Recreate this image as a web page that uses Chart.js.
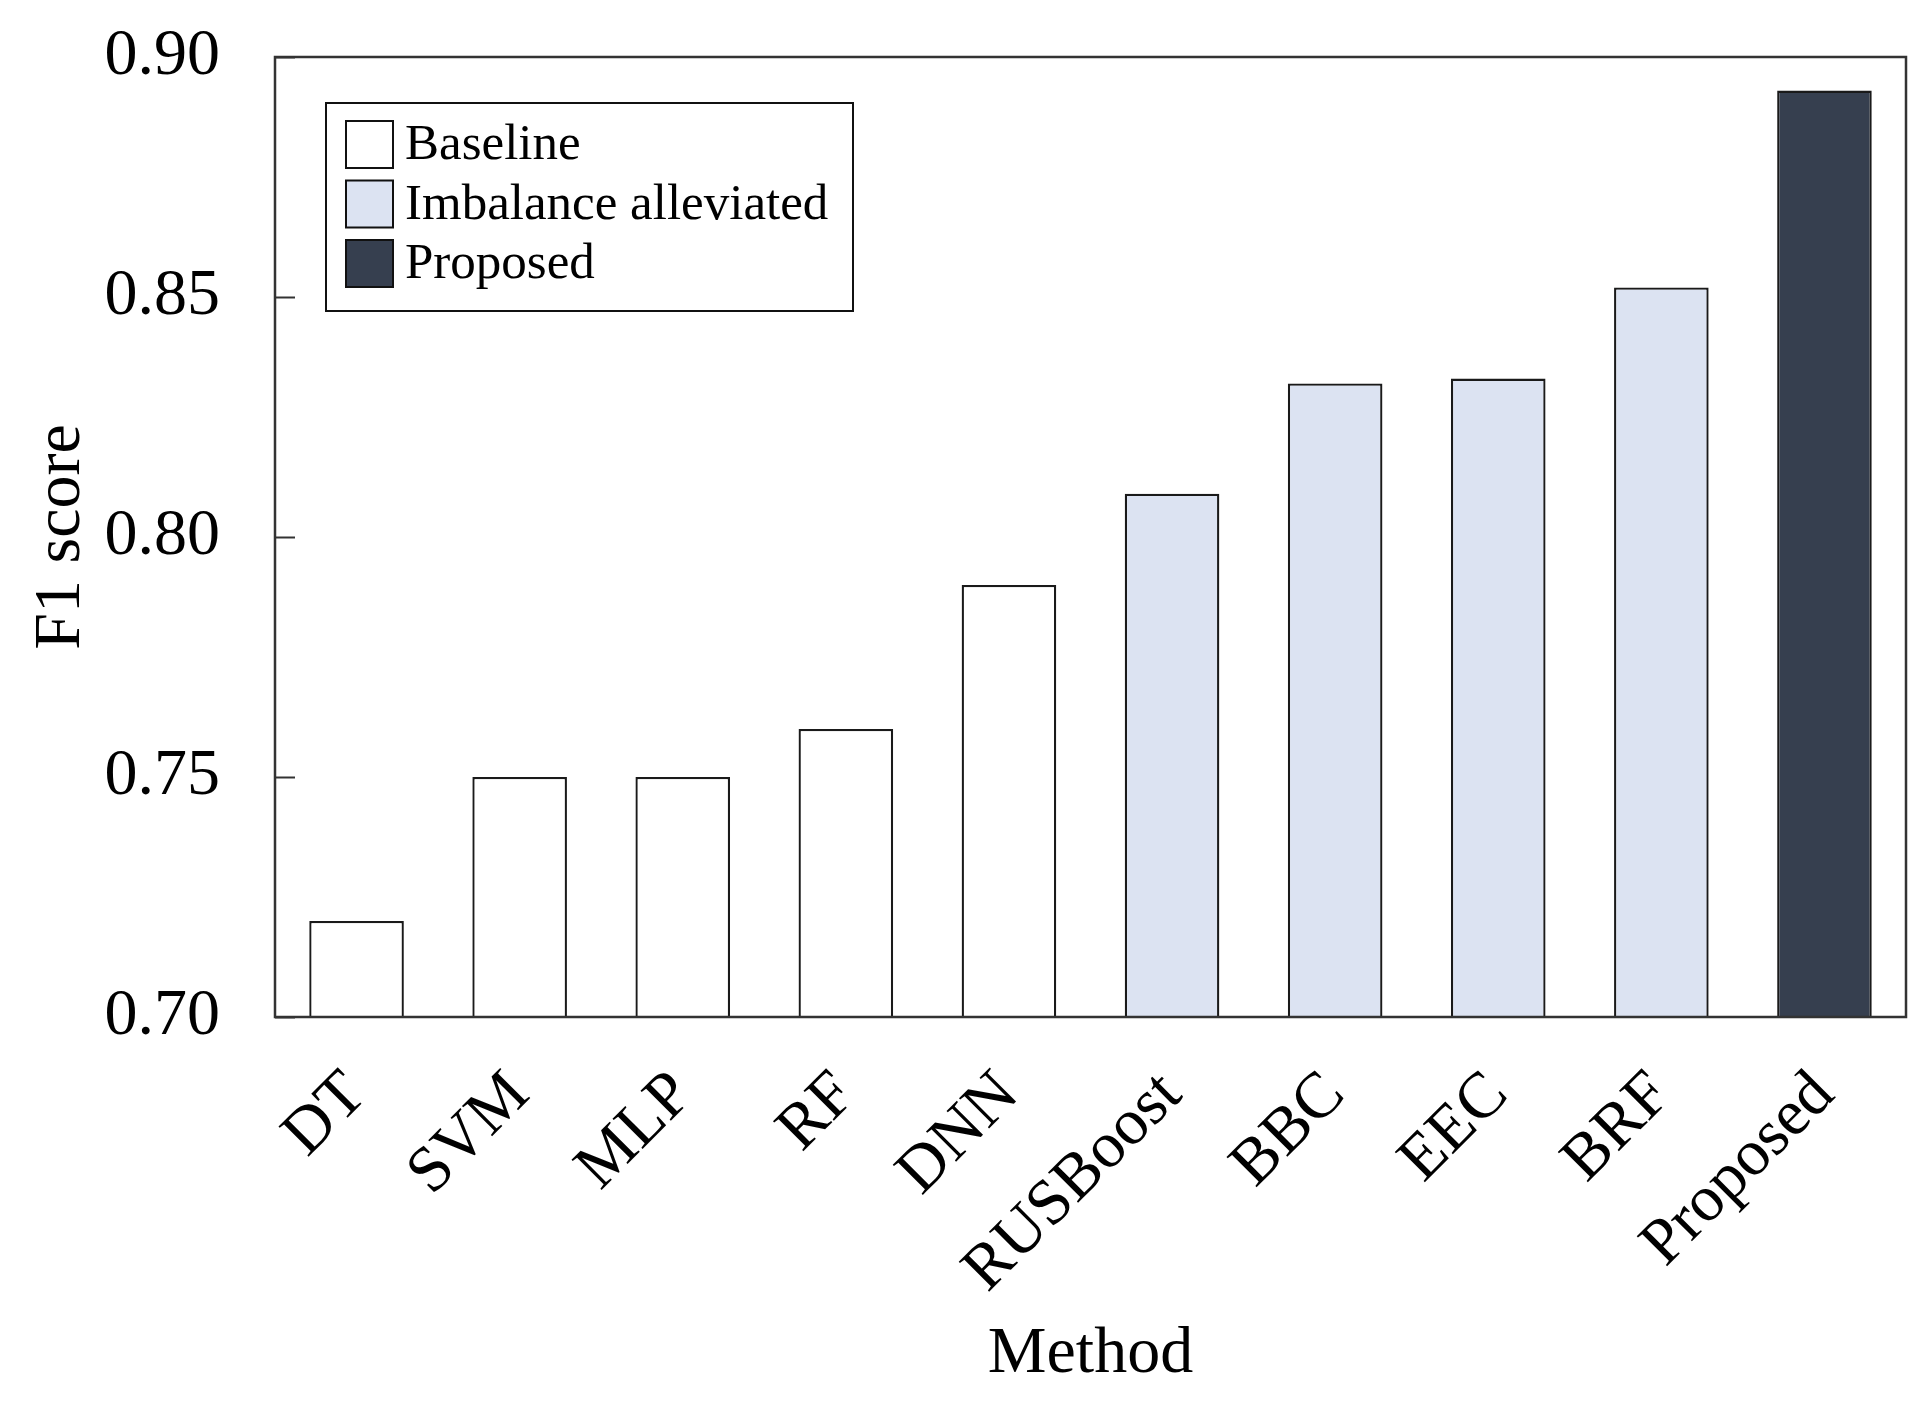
<!DOCTYPE html>
<html>
<head>
<meta charset="utf-8">
<script src="https://cdn.jsdelivr.net/npm/chart.js@4"></script>
<style>
  html, body { margin: 0; padding: 0; background: #fff; }
  #wrap { width: 1932px; height: 1403px; }
</style>
</head>
<body>
<div id="wrap"><canvas id="c"></canvas></div>
<script>
// F1 score per method
const methods = ['DT', 'SVM', 'MLP', 'RF', 'DNN', 'RUSBoost', 'BBC', 'EEC', 'BRF', 'Proposed'];
const f1 = [0.720, 0.750, 0.750, 0.760, 0.790, 0.809, 0.832, 0.833, 0.852, 0.893];
const group = [0, 0, 0, 0, 0, 1, 1, 1, 1, 2];
const groupNames = ['Baseline', 'Imbalance alleviated', 'Proposed'];
const groupColors = ['#ffffff', '#dce3f2', '#363f4f'];
const yTicks = [0.70, 0.75, 0.80, 0.85, 0.90];

const FONT = 'Liberation Serif, Times New Roman, serif';

// frame + inward y ticks + legend box
const decor = {
  id: 'decor',
  afterDatasetsDraw(chart) {
    const { ctx, chartArea: a, scales: { y } } = chart;
    ctx.save();
    ctx.strokeStyle = '#333';
    ctx.lineWidth = 2.5;
    ctx.strokeRect(a.left, a.top, a.right - a.left, a.bottom - a.top);
    ctx.lineWidth = 2;
    yTicks.forEach(v => {
      const py = Math.round(y.getPixelForValue(v)) + 0.5;
      ctx.beginPath(); ctx.moveTo(a.left, py); ctx.lineTo(a.left + 20, py); ctx.stroke();
    });

    // legend
    const lx = a.left + 51, ly = a.top + 46, lw = 527, lh = 208;
    ctx.fillStyle = '#fff';
    ctx.fillRect(lx, ly, lw, lh);
    ctx.strokeStyle = '#111';
    ctx.lineWidth = 2;
    ctx.strokeRect(lx, ly, lw, lh);
    ctx.font = '51px ' + FONT;
    ctx.textBaseline = 'middle';
    groupNames.forEach((name, i) => {
      const cy = ly + 41 + i * 59.5;
      ctx.fillStyle = groupColors[i];
      ctx.fillRect(lx + 20, cy - 23, 47, 47);
      ctx.strokeStyle = '#111';
      ctx.lineWidth = 2;
      ctx.strokeRect(lx + 20, cy - 23, 47, 47);
      ctx.fillStyle = '#000';
      ctx.fillText(name, lx + 79, cy + 2);
    });
    ctx.restore();
  }
};

new Chart(document.getElementById('c'), {
  type: 'bar',
  data: {
    labels: methods,
    datasets: [{
      data: f1,
      backgroundColor: group.map(g => groupColors[g]),
      borderColor: '#1a1a1a',
      borderWidth: 2.3,
      borderSkipped: false,
      barPercentage: 0.58,
      categoryPercentage: 1.0
    }]
  },
  options: {
    responsive: true,
    maintainAspectRatio: false,
    animation: false,
    devicePixelRatio: 1,
    layout: { padding: { top: 57, right: 26, bottom: 0, left: 0 } },
    plugins: { legend: { display: false }, tooltip: { enabled: false } },
    scales: {
      x: {
        grid: { display: false, drawTicks: false },
        border: { display: false },
        ticks: {
          color: '#000', font: { family: FONT, size: 65 },
          maxRotation: 45, minRotation: 45, padding: 40, autoSkip: false
        },
        title: { display: true, text: 'Method', color: '#000', font: { family: FONT, size: 66 }, padding: { top: 0, bottom: 9 } },
        afterFit: s => { s.height = 386; }
      },
      y: {
        min: 0.70, max: 0.90,
        afterBuildTicks: s => { s.ticks = yTicks.map(v => ({ value: v })); },
        grid: { display: false, drawTicks: false },
        border: { display: false },
        ticks: {
          color: '#000', font: { family: FONT, size: 66 }, padding: 55,
          callback: v => v.toFixed(2)
        },
        title: { display: true, text: 'F1 score', color: '#000', font: { family: FONT, size: 66 }, padding: { top: 22, bottom: 0 } },
        afterFit: s => { s.width = 275; s.paddingTop = 0; s.paddingBottom = 0; }
      }
    }
  },
  plugins: [decor]
});
</script>
</body>
</html>
